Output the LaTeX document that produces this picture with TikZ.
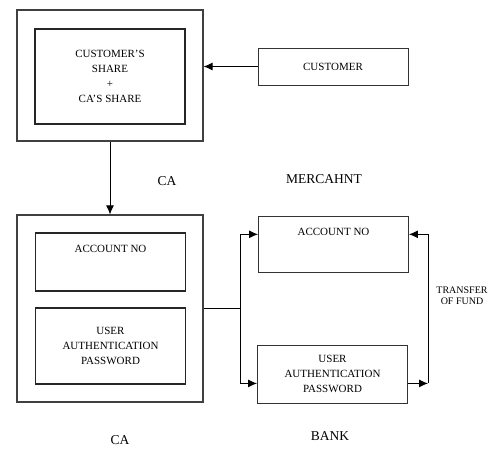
\documentclass[tikz,border=0pt]{standalone}
\usepackage{fontspec}
\setmainfont{Liberation Serif}
\usetikzlibrary{arrows.meta,positioning,calc}
\tikzset{
  every picture/.style={font=\fontsize{11}{15}\selectfont},
  outerbox/.style={draw=black!75,line width=1.1pt,minimum width=186pt},
  innerbox/.style={draw=black!85,line width=1.1pt,minimum width=150pt,align=center},
  sidebox/.style={draw=black!80,line width=0.9pt,minimum width=150pt,align=center},
  tag/.style={font=\fontsize{13.5}{15}\selectfont},
  arr/.style={-{Latex[length=9pt,width=8pt]},line width=1pt},
  wire/.style={line width=1pt},
}
\begin{document}
\begin{tikzpicture}[x=1pt,y=-1pt]
  \useasboundingbox (0,0) rectangle (500,448);
  % CA side
  \node[outerbox,minimum height=131pt] (caTop) at (110,75.5) {};
  \node[innerbox,minimum height=95pt] (shares) at (110,76.5)
    {CUSTOMER'S\\SHARE\\+\\CA'S SHARE};
  \node[sidebox,minimum height=37pt] (customer) at (333,66.5) {CUSTOMER};
  \node[tag] (caTopLbl) at (167,181) {CA};
  \node[outerbox,minimum height=187pt] (caBot) at (110,308.5) {};
  \node[innerbox,minimum height=58pt,
        label={[anchor=north,yshift=-9pt]north:ACCOUNT NO}] (caAcc) at (110.5,262) {};
  \node[innerbox,minimum height=76pt] (caPwd) at (110.5,346)
    {USER\\AUTHENTICATION\\PASSWORD};
  \node[tag] (caBotLbl) at (120,440) {CA};
  % merchant and bank
  \node[tag] (merchLbl) at (324,179) {MERCAHNT};
  \node[sidebox,minimum height=56pt,
        label={[anchor=north,yshift=-9pt]north:ACCOUNT NO}] (merch) at (333.5,244) {};
  \node[sidebox,minimum height=58pt] (bank) at (332.5,374)
    {USER\\AUTHENTICATION\\PASSWORD};
  \node[tag] (bankLbl) at (330,436) {BANK};
  \node[align=center,font=\fontsize{10}{11}\selectfont] (fund) at (462,296) {TRANSFER\\OF FUND};
  % connectors
  \coordinate (split) at (240,308.5);
  \coordinate (merchIn) at ($(merch.north west)!0.33!(merch.south west)$);
  \coordinate (merchOut) at ($(merch.north east)!0.33!(merch.south east)$);
  \coordinate (bankIn) at ($(bank.north west)!0.66!(bank.south west)$);
  \coordinate (bankOut) at ($(bank.north east)!0.66!(bank.south east)$);
  \coordinate (turn) at (428,0 |- bankOut);
  \draw[arr] (customer.west) -- (customer.west -| caTop.east);
  \draw[arr] (caTop.south) -- (caBot.north);
  \draw[wire] (caBot.east |- split) -- (split);
  \draw[arr] (split) |- (merchIn);
  \draw[arr] (split) |- (bankIn);
  \draw[arr] (bankOut) -- (turn);
  \draw[arr] (turn) |- (merchOut);
\end{tikzpicture}
\end{document}
